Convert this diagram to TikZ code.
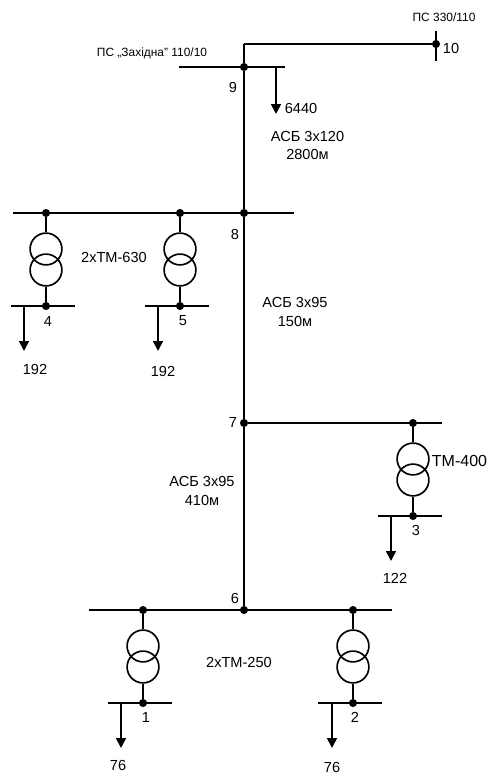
\documentclass[tikz,border=0pt]{standalone}
\usepackage{fontspec}
\setmainfont{Liberation Sans}
\usetikzlibrary{arrows.meta}
\tikzset{
  wire/.style={line width=0.95pt, black},
  busbar/.style={line width=1.05pt, black},
  junction/.style={circle, fill=black, inner sep=0pt, minimum size=4.6pt},
  winding/.style={circle, draw=black, line width=0.95pt, inner sep=0pt, minimum size=18.1pt},
  loadarrow/.style={line width=0.95pt, -{Triangle[length=5.6pt, width=5.6pt]}},
  lbl/.style={font=\fontsize{8.3}{10.6}\selectfont, inner sep=0pt, align=center},
  smalllbl/.style={font=\fontsize{6.8}{8}\selectfont, inner sep=0pt}
}
\begin{document}
\begin{tikzpicture}[x=0.02cm, y=-0.02cm]
  \useasboundingbox (0,0) rectangle (489,776);

  % Feeder from the 330/110 substation
  \coordinate (bar10top) at (436,31);
  \coordinate (bar10bot) at (436,61);
  \coordinate (corner) at (244,44);
  \node[junction] (n10) at (436,44) {};
  \draw[wire] (bar10top) -- (bar10bot);
  \draw[wire] (n10) -- (corner);
  \node[smalllbl] (sub330) at (444,17) {ПС 330/110};
  \node[lbl] (num10) at (451,48) {10};

  % Substation bus 9
  \node[junction] (n9) at (244,67) {};
  \coordinate (bus9l) at (179,67);
  \coordinate (bus9r) at (285,67);
  \coordinate (load9a) at (276,67);
  \coordinate (load9b) at (276,114);
  \draw[busbar] (bus9l) -- (bus9r);
  \draw[loadarrow] (load9a) -- (load9b);
  \node[smalllbl] (sub110) at (152,53) {ПС „Західна" 110/10};
  \node[lbl] (num9) at (233,87) {9};
  \node[lbl] (val9) at (301,108) {6440};

  % Main line
  \node[junction] (n8) at (244,213) {};
  \node[junction] (n7) at (244,423) {};
  \node[junction] (n6) at (244,610) {};
  \draw[wire] (corner) -- (n9);
  \draw[wire] (n9) -- (n8);
  \draw[wire] (n8) -- (n7);
  \draw[wire] (n7) -- (n6);
  \node[lbl] (cab98) at (307.5,145.5) {АСБ 3х120\\2800м};
  \node[lbl] (cab87) at (295,312) {АСБ 3х95\\150м};
  \node[lbl] (cab76) at (202,491) {АСБ 3х95\\410м};

  % Bus 8
  \coordinate (bus8l) at (13,213);
  \coordinate (bus8r) at (294,213);
  \draw[busbar] (bus8l) -- (bus8r);
  \node[lbl] (num8) at (235,234) {8};
  \node[lbl] (num7) at (233,422) {7};
  \node[lbl] (num6) at (235,598) {6};

  % Transformers with low-voltage bus and load
  \foreach \name/\xt/\ytop/\xload/\ytip in {
      four/46/213/24/351,
      five/180/213/158/351,
      three/413/423/391/561,
      one/143/610/121/748,
      two/353/610/332/748} {
    \node[junction] (hv\name) at (\xt,\ytop) {};
    \node[winding] (up\name) at (\xt,\ytop+36) {};
    \node[winding] (lo\name) at (\xt,\ytop+57) {};
    \node[junction] (lv\name) at (\xt,\ytop+93) {};
    \coordinate (lvl\name) at (\xt-35,\ytop+93);
    \coordinate (lvr\name) at (\xt+29,\ytop+93);
    \coordinate (la\name) at (\xload,\ytop+93);
    \coordinate (lb\name) at (\xload,\ytip);
    \draw[wire] (hv\name) -- (up\name);
    \draw[wire] (lo\name) -- (lv\name);
    \draw[busbar] (lvl\name) -- (lvr\name);
    \draw[loadarrow] (la\name) -- (lb\name);
  }

  % Branch to node 3
  \coordinate (bus7r) at (442,423);
  \draw[busbar] (n7) -- (bus7r);

  % Bus 6
  \coordinate (bus6l) at (89,610);
  \coordinate (bus6r) at (392,610);
  \draw[busbar] (bus6l) -- (bus6r);

  % Labels of the transformers
  \node[lbl] (num4) at (48,321) {4};
  \node[lbl] (num5) at (183,321) {5};
  \node[lbl] (num3) at (416,530) {3};
  \node[lbl] (num1) at (146,717) {1};
  \node[lbl] (num2) at (355,717) {2};
  \node[lbl] (val4) at (35,369) {192};
  \node[lbl] (val5) at (163,371) {192};
  \node[lbl] (val3) at (395,578) {122};
  \node[lbl] (val1) at (118,765) {76};
  \node[lbl] (val2) at (332,767) {76};
  \node[lbl] (tr630) at (114,257) {2хТМ-630};
  \node[lbl, font=\fontsize{9.1}{10.6}\selectfont] (tr400) at (459.5,461) {ТМ-400};
  \node[lbl] (tr250) at (239,662) {2хТМ-250};
\end{tikzpicture}
\end{document}
